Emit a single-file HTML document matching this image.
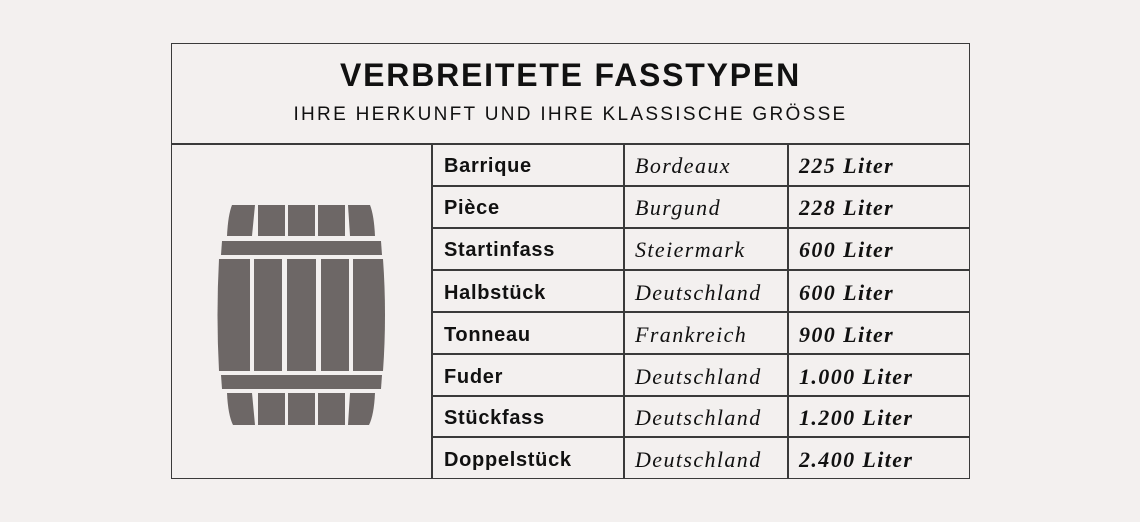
<!DOCTYPE html>
<html><head><meta charset="utf-8"><style>
html,body{margin:0;padding:0}
body{width:1140px;height:522px;background:#f3f0ef;position:relative;overflow:hidden;font-family:"Liberation Sans",sans-serif;color:#111}
.box{position:absolute;left:171px;top:43px;width:797px;height:434px;border:1.5px solid #3a3a3a}
.h1{position:absolute;left:171px;width:799px;top:57px;text-align:center;font-weight:bold;font-size:32px;letter-spacing:1.8px}
.h2{position:absolute;left:171px;width:799px;top:104px;text-align:center;font-size:19px;letter-spacing:2.3px}
.hl{position:absolute;background:#3a3a3a;height:1.5px}
.vl{position:absolute;background:#3a3a3a;width:1.5px}
.t{position:absolute;line-height:20px}
.c1{left:444px;font-weight:bold;font-family:"Liberation Sans",sans-serif;font-size:20px;letter-spacing:0.7px;margin-top:1px}
.c2{left:635px;font-style:italic;font-family:"Liberation Serif",serif;font-size:22px;letter-spacing:1.4px;margin-top:1px}
.c3{left:799px;font-style:italic;font-weight:bold;font-family:"Liberation Serif",serif;font-size:22px;letter-spacing:1.4px;margin-top:1px}
</style></head><body>
<div class="box"></div>
<div class="h1">VERBREITETE FASSTYPEN</div>
<div class="h2">IHRE HERKUNFT UND IHRE KLASSISCHE GRÖSSE</div>
<div class="hl" style="left:171px;top:143px;width:799px"></div>
<div class="vl" style="left:431px;top:143px;height:335px"></div>
<div class="vl" style="left:623px;top:143px;height:335px"></div>
<div class="vl" style="left:787px;top:143px;height:335px"></div>
<div class="hl" style="left:431px;top:185px;width:538px"></div>
<div class="hl" style="left:431px;top:227px;width:538px"></div>
<div class="hl" style="left:431px;top:269px;width:538px"></div>
<div class="hl" style="left:431px;top:311px;width:538px"></div>
<div class="hl" style="left:431px;top:353px;width:538px"></div>
<div class="hl" style="left:431px;top:395px;width:538px"></div>
<div class="hl" style="left:431px;top:436px;width:538px"></div>

<svg style="position:absolute;left:0;top:0" width="1140" height="522">
<g fill="#6d6766">
<path d="M232,205 L255,205 L252,236 L227,236 Q228,215 232,205Z"/>
<rect x="258" y="205" width="27" height="31"/>
<rect x="288" y="205" width="27" height="31"/>
<rect x="318" y="205" width="27" height="31"/>
<path d="M348,205 L370,205 Q374,215 375,236 L350,236Z"/>
<path d="M222,241 L381,241 L382,255 L221,255Z"/>
<path d="M219,259 L250,259 L250,371 L219,371 Q216,315 219,259Z"/>
<rect x="254" y="259" width="28" height="112"/>
<rect x="287" y="259" width="29" height="112"/>
<rect x="321" y="259" width="28" height="112"/>
<path d="M353,259 L383,259 Q387,315 383,371 L353,371Z"/>
<path d="M221,375 L382,375 L381,389 L222,389Z"/>
<path d="M227,393 L252,393 L255,425 L233,425 Q228,415 227,393Z"/>
<rect x="258" y="393" width="27" height="32"/>
<rect x="288" y="393" width="27" height="32"/>
<rect x="318" y="393" width="27" height="32"/>
<path d="M350,393 L375,393 Q374,415 369,425 L348,425Z"/>
</g></svg>

<div class="t c1" style="top:155px">Barrique</div><div class="t c2" style="top:155px">Bordeaux</div><div class="t c3" style="top:155px">225 Liter</div>
<div class="t c1" style="top:197px">Pièce</div><div class="t c2" style="top:197px">Burgund</div><div class="t c3" style="top:197px">228 Liter</div>
<div class="t c1" style="top:239px">Startinfass</div><div class="t c2" style="top:239px">Steiermark</div><div class="t c3" style="top:239px">600 Liter</div>
<div class="t c1" style="top:282px">Halbstück</div><div class="t c2" style="top:282px">Deutschland</div><div class="t c3" style="top:282px">600 Liter</div>
<div class="t c1" style="top:324px">Tonneau</div><div class="t c2" style="top:324px">Frankreich</div><div class="t c3" style="top:324px">900 Liter</div>
<div class="t c1" style="top:366px">Fuder</div><div class="t c2" style="top:366px">Deutschland</div><div class="t c3" style="top:366px">1.000 Liter</div>
<div class="t c1" style="top:407px">Stückfass</div><div class="t c2" style="top:407px">Deutschland</div><div class="t c3" style="top:407px">1.200 Liter</div>
<div class="t c1" style="top:449px">Doppelstück</div><div class="t c2" style="top:449px">Deutschland</div><div class="t c3" style="top:449px">2.400 Liter</div>
</body></html>
